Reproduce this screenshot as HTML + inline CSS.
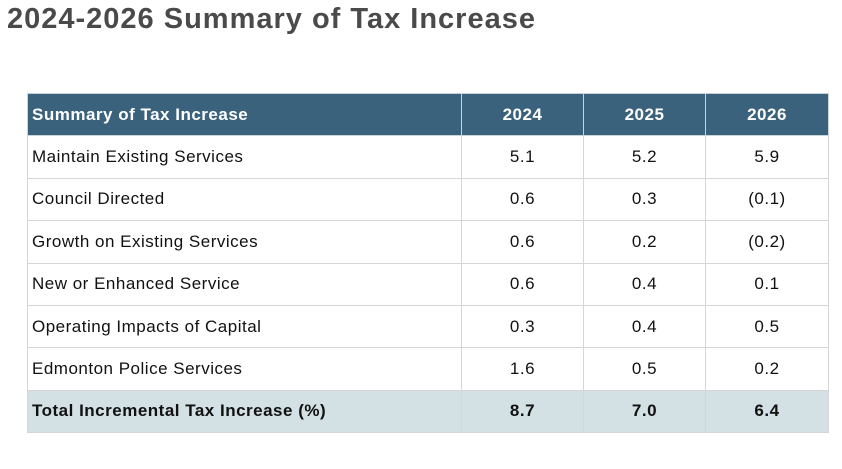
<!DOCTYPE html>
<html><head><meta charset="utf-8"><style>
html,body{margin:0;padding:0;background:#fff;width:842px;height:469px;overflow:hidden;font-family:"Liberation Sans","DejaVu Sans",sans-serif;}
h1{position:absolute;left:7px;top:3px;margin:0;font-size:29px;font-weight:bold;color:#4a4a4a;letter-spacing:1px;}
table{position:absolute;left:27px;top:93px;border-collapse:collapse;width:801px;table-layout:fixed;font-size:17px;color:#111;letter-spacing:0.5px;}
td,th{border:1px solid #d6d6d6;height:41.4px;padding:0 4px;}
th{background:#3a627c;color:#fff;font-weight:bold;border-color:#c9d4da;}
td.n,th.n{text-align:center;}
th.l,td.l{text-align:left;}
tr.total td{background:#d3e0e4;font-weight:bold;}
</style></head><body>
<h1>2024-2026 Summary of Tax Increase</h1>
<table>
<colgroup><col style="width:434px"><col style="width:122px"><col style="width:122px"><col style="width:123px"></colgroup>
<tr><th class="l">Summary of Tax Increase</th><th class="n">2024</th><th class="n">2025</th><th class="n">2026</th></tr>
<tr><td class="l">Maintain Existing Services</td><td class="n">5.1</td><td class="n">5.2</td><td class="n">5.9</td></tr>
<tr><td class="l">Council Directed</td><td class="n">0.6</td><td class="n">0.3</td><td class="n">(0.1)</td></tr>
<tr><td class="l">Growth on Existing Services</td><td class="n">0.6</td><td class="n">0.2</td><td class="n">(0.2)</td></tr>
<tr><td class="l">New or Enhanced Service</td><td class="n">0.6</td><td class="n">0.4</td><td class="n">0.1</td></tr>
<tr><td class="l">Operating Impacts of Capital</td><td class="n">0.3</td><td class="n">0.4</td><td class="n">0.5</td></tr>
<tr><td class="l">Edmonton Police Services</td><td class="n">1.6</td><td class="n">0.5</td><td class="n">0.2</td></tr>
<tr class="total"><td class="l">Total Incremental Tax Increase (%)</td><td class="n">8.7</td><td class="n">7.0</td><td class="n">6.4</td></tr>
</table>
</body></html>
